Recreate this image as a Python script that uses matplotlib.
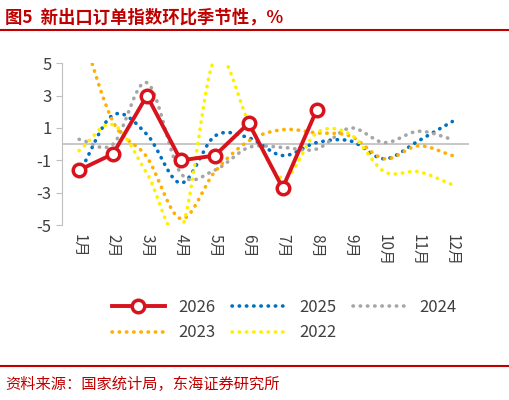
import numpy as np
import matplotlib.pyplot as plt

plt.rcParams['font.family'] = ['Noto Sans CJK SC', 'DejaVu Sans']
plt.rcParams['axes.unicode_minus'] = False

months = ["1月", "2月", "3月", "4月", "5月", "6月", "7月", "8月", "9月", "10月", "11月", "12月"]
s2026 = [-1.6, -0.6, 3.0, -1.0, -0.7, 1.3, -2.7, 2.1]
s2025 = [-1.8, 1.8, 0.6, -2.4, 0.5, 0.4, -0.7, 0.1, 0.2, -0.9, 0.2, 1.4]
s2024 = [0.3, 0.0, 3.8, -1.8, -1.6, -0.2, -0.2, -0.3, 1.0, 0.1, 0.8, 0.3]
s2023 = [7.5, 1.4, -0.8, -4.6, -1.7, 0.2, 0.9, 0.7, 0.5, -0.9, -0.1, -0.7]
s2022 = [-0.4, 1.2, -1.8, -5.3, 5.3, 1.4, -2.1, 0.7, 0.6, -1.7, -1.7, -2.5]


def smooth(y, n=20):
    # Catmull-Rom through the points, like Excel's smoothed line
    y = np.asarray(y, float)
    p = np.concatenate([[2 * y[0] - y[1]], y, [2 * y[-1] - y[-2]]])
    xs, ys = [], []
    for i in range(len(y) - 1):
        t = np.linspace(0, 1, n, endpoint=False)
        p0, p1, p2, p3 = p[i], p[i + 1], p[i + 2], p[i + 3]
        v = 0.5 * (2 * p1 + (-p0 + p2) * t + (2 * p0 - 5 * p1 + 4 * p2 - p3) * t ** 2
                   + (-p0 + 3 * p1 - 3 * p2 + p3) * t ** 3)
        xs.extend(i + t)
        ys.extend(v)
    xs.append(len(y) - 1)
    ys.append(y[-1])
    return np.array(xs), np.array(ys)


fig = plt.figure(figsize=(5.09, 4.0), dpi=100)
ax = fig.add_axes([0.122, 0.437, 0.80, 0.405])

styles = [(s2025, "#0070C0", "2025"), (s2024, "#A6A6A6", "2024"),
          (s2023, "#FFB000", "2023"), (s2022, "#FFF000", "2022")]
handles = {}
for data, col, name in styles:
    x, y = smooth(data)
    handles[name], = ax.plot(x, y, color=col, lw=2.6, ls=(0, (0.1, 1.9)),
                             dash_capstyle='round', label=name)

handles["2026"], = ax.plot(range(len(s2026)), s2026, color="#D7141E", lw=2.8,
                           marker="o", ms=9, mfc="white", mew=2.5, label="2026", zorder=5)

ax.axhline(0, color="#BFBFBF", lw=1.2, zorder=1)
ax.set_ylim(-5, 5)
ax.set_xlim(-0.5, 11.5)
ax.set_yticks([5, 3, 1, -1, -3, -5])
ax.set_xticks(range(12))
ax.set_xticklabels(months, rotation=-90, fontsize=11, color="#404040")
ax.tick_params(axis='y', labelsize=12, colors="#404040", length=4, color="#BFBFBF")
ax.tick_params(axis='x', length=0, pad=6)
for s in ["top", "right", "bottom"]:
    ax.spines[s].set_visible(False)
ax.spines["left"].set_color("#BFBFBF")

# matplotlib fills legend columns first; this order gives rows 2026 2025 2024 / 2023 2022
order = ["2026", "2023", "2025", "2022", "2024"]
fig.legend([handles[k] for k in order], order, loc="upper left", bbox_to_anchor=(0.19, 0.29),
           ncol=3, frameon=False, fontsize=12, handlelength=3.2, columnspacing=1.0,
           labelcolor="#404040")

fig.text(0.01, 0.955, "图5  新出口订单指数环比季节性，%", color="#C00000", fontsize=12.5,
         fontweight="bold", va="center")
fig.add_artist(plt.Line2D([0, 1], [0.925, 0.925], color="#C00000", lw=1.5))
fig.add_artist(plt.Line2D([0, 1], [0.085, 0.085], color="#C00000", lw=1.5))
fig.text(0.01, 0.04, "资料来源：国家统计局，东海证券研究所", color="#C00000", fontsize=11, va="center")

fig.savefig("out.png", dpi=100)
